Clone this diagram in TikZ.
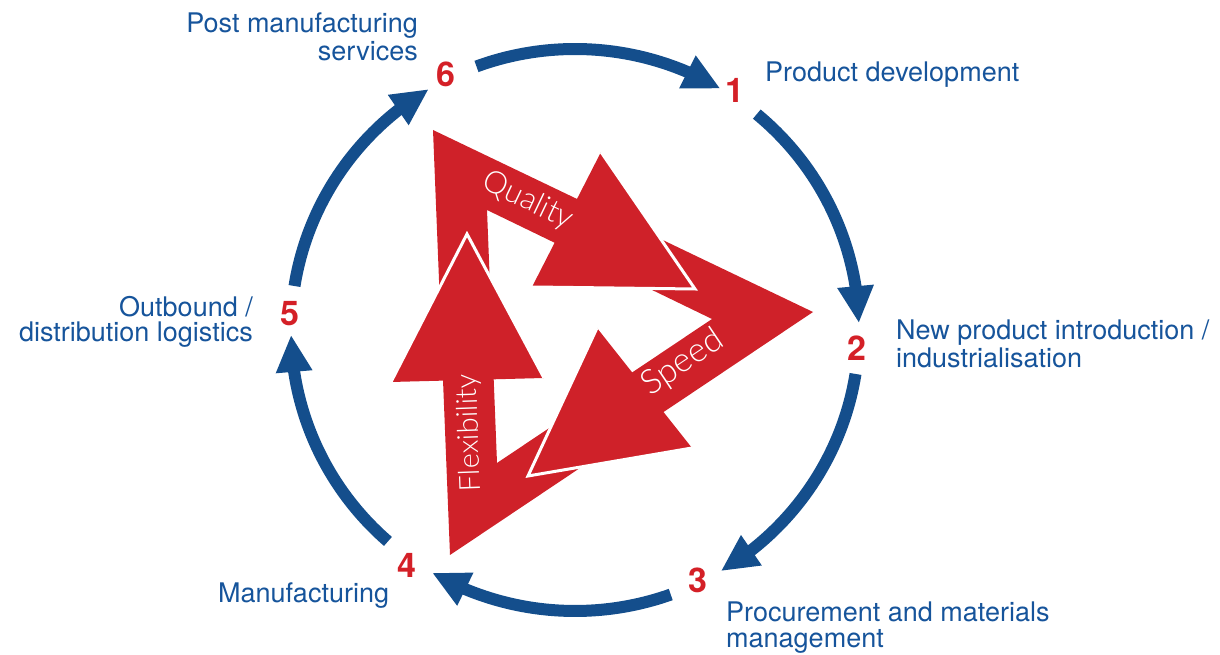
\documentclass[tikz,border=0pt]{standalone}
\usepackage{fontspec}
\setmainfont{TeX Gyre Heros}
\newfontfamily\thinfont{Lato Light}
\usetikzlibrary{arrows.meta,bending,calc}
\definecolor{cycblue}{RGB}{20,78,140}
\definecolor{txtblue}{RGB}{22,84,155}
\definecolor{numred}{RGB}{212,32,39}
\definecolor{trired}{RGB}{207,33,41}
\begin{document}
\begin{tikzpicture}[x=1pt,y=1pt,
  cyc/.style={line width=12pt, draw=cycblue, -{Triangle[width=34pt,length=37pt]}},
  num/.style={text=numred, font=\fontsize{34}{34}\selectfont\bfseries, inner sep=0pt},
  lbl/.style={text=txtblue, font=\fontsize{27}{28}\selectfont, inner sep=0pt},
  headedge/.style={draw=white, line width=3pt, line join=miter},
  shafttext/.style={text=white, inner sep=0pt}]
\useasboundingbox (0,0) rectangle (1220,655);
\coordinate (C) at (575,325);

% numbers
\node[num] (n1) at (735,565) {1};
\node[num] (n2) at (857,307) {2};
\node[num] (n3) at (698,75) {3};
\node[num] (n4) at (407,90) {4};
\node[num] (n5) at (290,341) {5};
\node[num] (n6) at (446,581) {6};

% labels
\node[lbl, align=right, anchor=north east] (lpost) at (418,642) {Post manufacturing\\services};
\node[lbl, anchor=base west] (lprod) at (765,573) {Product development};
\node[lbl, align=left, anchor=north west] (lnew) at (896,335) {New product introduction /\\industrialisation};
\node[lbl, align=right, anchor=north east, font=\fontsize{27}{25.5}\selectfont] (lout) at (253,359) {Outbound /\\distribution logistics};
\node[lbl, anchor=base west] (lmanu) at (218,52) {Manufacturing};
\node[lbl, align=left, anchor=north west, font=\fontsize{27}{25.5}\selectfont] (lproc) at (726,53) {Procurement and materials\\management};

% cycle arcs
\coordinate (s61) at ($(C)+(110.3:284pt and 281pt)$);
\coordinate (s12) at ($(C)+(50.2:284pt and 281pt)$);
\coordinate (s23) at ($(C)+(-9:284pt and 281pt)$);
\coordinate (s34) at ($(C)+(-70.3:284pt and 281pt)$);
\coordinate (s45) at ($(C)+(-131.2:284pt and 281pt)$);
\coordinate (s56) at ($(C)+(171:284pt and 281pt)$);
\draw[cyc] (s61) arc[start angle=110.3, end angle=59.2, x radius=284pt, y radius=281pt];
\draw[cyc] (s12) arc[start angle=50.2, end angle=1.4, x radius=284pt, y radius=281pt];
\draw[cyc] (s23) arc[start angle=-9, end angle=-59.1, x radius=284pt, y radius=281pt];
\draw[cyc] (s34) arc[start angle=-70.3, end angle=-120.2, x radius=284pt, y radius=281pt];
\draw[cyc] (s45) arc[start angle=-131.2, end angle=-179, x radius=284pt, y radius=281pt];
\draw[cyc] (s56) arc[start angle=171, end angle=121, x radius=284pt, y radius=281pt];

% red triangle band
\fill[trired, even odd rule] (433,525) -- (813,343) -- (450,100) -- cycle
  (487,445) -- (712,336) -- (497,192) -- cycle;

% heads
\coordinate (qa) at (601,503); \coordinate (qb) at (532,368); \coordinate (qt) at (695,366);
\coordinate (sa) at (597,327); \coordinate (sb) at (692,207); \coordinate (st) at (528,179);
\coordinate (fa) at (391,273); \coordinate (fb) at (544,277); \coordinate (ft) at (467,421);
\fill[trired] (qa) -- (qb) -- (qt) -- cycle;
\draw[headedge] (qa) -- (qt) -- (qb);
\fill[trired] (sa) -- (sb) -- (st) -- cycle;
\draw[headedge] (sa) -- (st) -- (sb);
\fill[trired] (fa) -- (fb) -- (ft) -- cycle;
\draw[headedge] (fa) -- (ft) -- (fb);

% shaft labels
\node[shafttext, rotate=-25.6, font=\thinfont\fontsize{31}{31}\selectfont] (tq) at (528,454) {Quality};
\node[shafttext, rotate=33.8, font=\thinfont\fontsize{34}{34}\selectfont] (ts) at (683,292) {Speed};
\node[shafttext, rotate=92, font=\thinfont\fontsize{29}{29}\selectfont] (tf) at (470,222) {Flexibility};
\end{tikzpicture}
\end{document}
